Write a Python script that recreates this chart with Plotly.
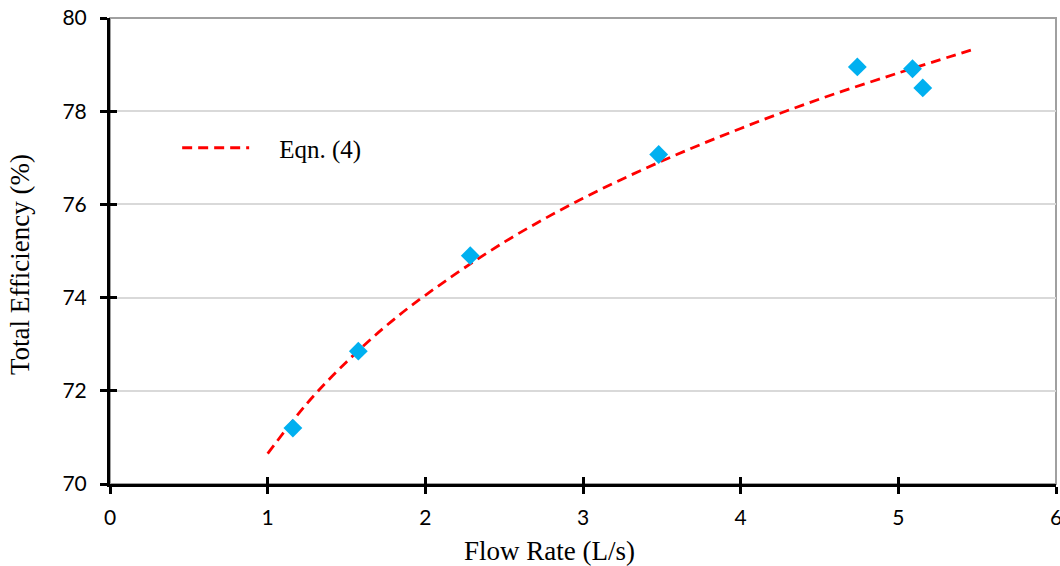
import plotly.graph_objects as go

# Measured data points
flow_rate = [1.16, 1.575, 2.285, 3.48, 4.74, 5.09, 5.155]
efficiency = [71.2, 72.85, 74.9, 77.07, 78.95, 78.91, 78.5]

# Eqn. (4) curve
eqn_x = [1.0, 1.25, 1.5, 1.75, 2.0, 2.5, 3.0, 3.5, 4.0, 4.5, 5.0, 5.46]
eqn_y = [70.65, 71.73, 72.62, 73.39, 74.05, 75.19, 76.13, 76.93, 77.63, 78.26, 78.82, 79.31]

x_ticks = [0, 1, 2, 3, 4, 5, 6]
y_ticks = [70, 72, 74, 76, 78, 80]

x_title = "Flow Rate (L/s)"
y_title = "Total Efficiency (%)"
legend_label = "Eqn. (4)"

tick_font = dict(family="Lato, 'Open Sans', sans-serif", size=21, color="#000000")
serif = "'Liberation Serif', 'Times New Roman', serif"
title_font = dict(family=serif, size=27, color="#000000")

fig = go.Figure()
fig.add_trace(go.Scatter(
    x=eqn_x, y=eqn_y, mode="lines", name="\u00a0\u00a0\u00a0\u00a0" + legend_label,
    line=dict(color="#ff0000", width=2.8, dash="10px,6px", shape="spline", smoothing=1.0),
))
fig.add_trace(go.Scatter(
    x=flow_rate, y=efficiency, mode="markers", name="Data", showlegend=False,
    marker=dict(symbol="diamond", size=14.5, color="#00b0f0"),
))
# invisible trace to hook the overlay axes (inside half of the crossing ticks)
fig.add_trace(go.Scatter(x=[None], y=[None], xaxis="x2", yaxis="y2",
                         showlegend=False, hoverinfo="skip"))

fig.update_layout(
    width=1060, height=566,
    margin=dict(l=110, r=4, t=18, b=82, autoexpand=False),
    paper_bgcolor="white", plot_bgcolor="white",
    showlegend=True,
    legend=dict(x=0.071, y=0.721, xanchor="left", yanchor="middle",
                bgcolor="rgba(0,0,0,0)", itemwidth=67,
                font=dict(family=serif, size=25, color="#000")),
    xaxis=dict(range=[0, 6], tickvals=x_ticks, ticks="outside", ticklen=7, tickwidth=3,
               tickcolor="#000", showline=True, linecolor="#000", linewidth=3,
               showgrid=False, zeroline=False, tickfont=tick_font, automargin=False,
               ticklabelstandoff=6, ticklabeloverflow="allow"),
    yaxis=dict(range=[70, 80], tickvals=y_ticks, ticks="outside", ticklen=7, tickwidth=3,
               tickcolor="#000", showline=True, linecolor="#000", linewidth=3,
               showgrid=True, gridcolor="#d9d9d9", gridwidth=2, zeroline=False,
               tickfont=tick_font, ticklabelstandoff=9, ticklabeloverflow="allow",
               automargin=False),
    xaxis2=dict(range=[0, 6], tickvals=x_ticks, overlaying="x", side="bottom",
                ticks="inside", ticklen=7, tickwidth=3, tickcolor="#000", automargin=False,
                showticklabels=False, showgrid=False, zeroline=False, showline=False),
    yaxis2=dict(range=[70, 80], tickvals=y_ticks, overlaying="y", side="left",
                ticks="inside", ticklen=7, tickwidth=3, tickcolor="#000", automargin=False,
                showticklabels=False, showgrid=False, zeroline=False, showline=False),
    shapes=[dict(type="rect", xref="paper", yref="paper", x0=0, x1=1, y0=0, y1=1,
                 line=dict(color="#a0a0a0", width=2), layer="below")],
    annotations=[
        dict(text=x_title, xref="paper", yref="paper", x=0.465, y=-0.143,
             xanchor="center", yanchor="middle", showarrow=False, font=title_font),
        dict(text=y_title, xref="paper", yref="paper", x=-0.095, y=0.47,
             xanchor="center", yanchor="middle", showarrow=False, font=title_font,
             textangle=-90),
    ],
)

fig.write_html("out.html", config={"displayModeBar": False},
               post_script="document.body.style.margin='0px';")
